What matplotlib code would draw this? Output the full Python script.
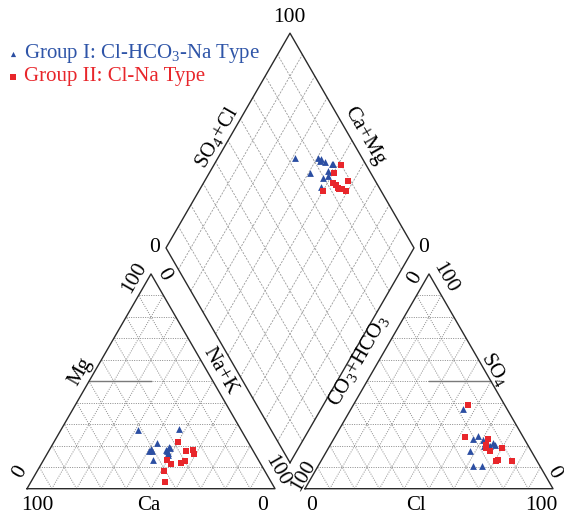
import numpy as np
import matplotlib
matplotlib.use('Agg')
import matplotlib.pyplot as plt

plt.rcParams['font.family'] = ['Liberation Serif', 'DejaVu Serif']
plt.rcParams['mathtext.fontset'] = 'custom'
plt.rcParams['mathtext.rm'] = 'Liberation Serif'
plt.rcParams['mathtext.it'] = 'Liberation Serif:italic'
plt.rcParams['mathtext.bf'] = 'Liberation Serif:bold'

# ---------------- data (meq %) ----------------
# Group I: Cl-HCO3-Na type
g1_ca   = [41.5, 41.9, 41.0, 42.3, 24.7, 33.1, 35.0, 40.7, 35.2, 35.0, 32.9, 37.0, 35.0]
g1_mg   = [27.3, 17.6, 17.4, 13.5, 27.8, 19.3, 17.4, 18.6, 15.7, 16.6, 18.9, 21.3, 18.0]
g1_nak  = [31.2, 40.5, 41.6, 44.2, 47.5, 47.6, 47.6, 40.7, 49.1, 48.4, 48.2, 41.7, 47.0]
g1_hco3 = [26.8, 17.6, 17.8, 15.8, 13.4, 13.3, 16.7, 24.6, 15.6, 17.9, 23.3, 16.8, 20.5]
g1_so4  = [10.7, 37.1, 24.7, 20.5, 21.3, 20.2, 22.8, 17.7, 19.7, 19.7, 10.4, 21.3, 23.3]
g1_cl   = [62.5, 45.3, 57.5, 63.7, 65.3, 66.5, 60.5, 57.7, 64.7, 62.4, 66.3, 61.9, 56.2]

# Group II: Cl-Na type
g2_ca   = [40.7, 28.2, 24.1, 36.3, 42.8, 32.0, 29.8, 24.5, 36.8, 27.2]
g2_mg   = [8.1, 21.7, 18.2, 11.5, 3.1, 12.0, 13.0, 16.3, 13.2, 17.4]
g2_nak  = [51.2, 50.1, 57.7, 52.2, 54.1, 56.0, 57.2, 59.2, 50.0, 55.4]
g2_hco3 = [10.2, 14.8, 11.0, 17.7, 16.8, 16.7, 15.5, 14.4, 23.5, 16.7]
g2_so4  = [13.0, 39.1, 18.9, 18.9, 20.3, 17.4, 13.5, 23.3, 23.9, 12.8]
g2_cl   = [76.8, 46.1, 70.1, 63.4, 62.9, 65.9, 71.0, 62.3, 52.6, 70.5]

group_labels = ['Group I: Cl-HCO$_3$-Na Type', 'Group II: Cl-Na Type']
group_colors = ['#2b4ea2', '#e8262b']
text_colors = ['#2f55a8', '#e8262b']
group_markers = ['^', 's']

# ---------------- geometry ----------------
SCALE = 248.0           # px per unit
OX, OY = 27.0, 488.7    # pixel of left-triangle origin
GAP = 30.0 / SCALE
H = np.sqrt(3) / 2


def P(px, py):
    return (px - OX) / SCALE, (OY - py) / SCALE


def cation_xy(ca, mg, nak):
    ca, mg, nak = map(np.asarray, (ca, mg, nak))
    t = ca + mg + nak
    m, n = mg / t, nak / t
    return n + 0.5 * m, H * m


def anion_xy(hco3, so4, cl):
    hco3, so4, cl = map(np.asarray, (hco3, so4, cl))
    t = hco3 + so4 + cl
    s, c = so4 / t, cl / t
    return 1 + GAP + c + 0.5 * s, H * s


BX, BY = 1 + GAP / 2, GAP * H


def diamond_xy(ca, mg, nak, hco3, so4, cl):
    ca, mg, nak, hco3, so4, cl = map(np.asarray, (ca, mg, nak, hco3, so4, cl))
    v = (ca + mg) / (ca + mg + nak)
    u = (so4 + cl) / (hco3 + so4 + cl)
    return BX + 0.5 * (u - v), BY + H * (u + v)


fig = plt.figure(figsize=(5.64, 5.14), dpi=100)
ax = fig.add_axes([0, 0, 1, 1])
x0, _ = P(0, 0)
x1, _ = P(564, 0)
_, y0 = P(0, 514)
_, y1 = P(0, 0)
ax.set_xlim(x0, x1)
ax.set_ylim(y0, y1)
ax.set_aspect('equal')
ax.axis('off')

edge_kw = dict(color='#2a2a2a', lw=1.0, zorder=3)
tri_grid = dict(color='#8a8a8a', lw=0.7, ls=(0, (1, 1.4)), zorder=1)
dia_grid = dict(color='#9a9a9a', lw=0.6, ls=(0, (2.5, 1.5)), zorder=1)

# triangles
for sx in (0.0, 1 + GAP):
    ax.plot([sx, sx + 1, sx + 0.5, sx], [0, 0, H, 0], **edge_kw)
    for i in range(1, 10):
        f = i / 10
        ax.plot([sx + 0.5 * f, sx + 1 - 0.5 * f], [H * f, H * f], **tri_grid)
        ax.plot([sx + f, sx + f + 0.5 * (1 - f)], [0, H * (1 - f)], **tri_grid)
        ax.plot([sx + 1 - f, sx + 0.5 * (1 - f)], [0, H * (1 - f)], **tri_grid)

# 50% reference segments
ax.plot([0.25, 0.5], [H / 2, H / 2], color='#7a7a7a', lw=1.0, zorder=2)
ax.plot([1 + GAP + 0.5, 1 + GAP + 0.75], [H / 2, H / 2], color='#7a7a7a', lw=1.0, zorder=2)

# diamond
dxs = [BX, BX + 0.5, BX, BX - 0.5, BX]
dys = [BY, BY + H, BY + 2 * H, BY + H, BY]
ax.plot(dxs, dys, **edge_kw)
for i in range(1, 10):
    f = i / 10
    sx_, sy_ = BX + 0.5 * f, BY + H * f
    ax.plot([sx_, sx_ - 0.5], [sy_, sy_ + H], **dia_grid)
    sx_, sy_ = BX - 0.5 * f, BY + H * f
    ax.plot([sx_, sx_ + 0.5], [sy_, sy_ + H], **dia_grid)

# data points
groups = [
    (g1_ca, g1_mg, g1_nak, g1_hco3, g1_so4, g1_cl),
    (g2_ca, g2_mg, g2_nak, g2_hco3, g2_so4, g2_cl),
]
for k, (ca, mg, nak, hco3, so4, cl) in enumerate(groups):
    kw = dict(marker=group_markers[k], color=group_colors[k],
              s=24 if k == 0 else 20, linewidths=0, zorder=5 + k)
    cx, cy = cation_xy(ca, mg, nak)
    ax.scatter(cx, cy, **kw)
    axx, ayy = anion_xy(hco3, so4, cl)
    ax.scatter(axx, ayy, **kw)
    dx_, dy_ = diamond_xy(ca, mg, nak, hco3, so4, cl)
    ax.scatter(dx_, dy_, **kw)

# labels
FS = 15
NFS = 15.5


def T(px, py, s, rot=0, fs=FS, **kw):
    x, y = P(px, py)
    ax.text(x, y, s, rotation=rot, fontsize=fs, ha='center', va='center',
            rotation_mode='anchor', color='black', **kw)


# diamond
T(289, 17, '100', fs=NFS)
T(155, 247, '0', fs=NFS)
T(424, 247, '0', fs=NFS)
T(217, 137, 'SO$_4$+Cl', rot=60)
T(364, 136, 'Ca+Mg', rot=-60)

# left triangle
T(134, 278, '100', rot=60, fs=NFS)
T(164, 274, '0', rot=-60, fs=NFS)
T(20, 472, '0', rot=60, fs=NFS)
T(277, 471, '100', rot=-60, fs=NFS)
T(80, 372, 'Mg', rot=60)
T(220, 371, 'Na+K', rot=-60)
T(37, 506, '100', fs=NFS)
T(149, 506, 'Ca')
T(263, 506, '0', fs=NFS)

# right triangle
T(303, 476, '100', rot=60, fs=NFS)
T(415, 278, '0', rot=60, fs=NFS)
T(445, 278, '100', rot=-60, fs=NFS)
T(554, 472, '0', rot=-60, fs=NFS)
T(358, 361, 'CO$_3$+HCO$_3$', rot=60)
T(495, 369, 'SO$_4$', rot=-60)
T(312, 506, '0', fs=NFS)
T(416, 506, 'Cl')
T(541, 506, '100', fs=NFS)

# legend
for k, (py) in enumerate((53, 76)):
    mx, my = P(12.5, py + 0.5)
    ax.scatter([mx], [my], marker=group_markers[k], color=group_colors[k],
               s=14, linewidths=0, zorder=6)
    tx, ty = P(24, py)
    ax.text(tx, ty, group_labels[k], fontsize=FS, ha='left', va='center',
            color=text_colors[k])

fig.savefig('out.png', dpi=100)
